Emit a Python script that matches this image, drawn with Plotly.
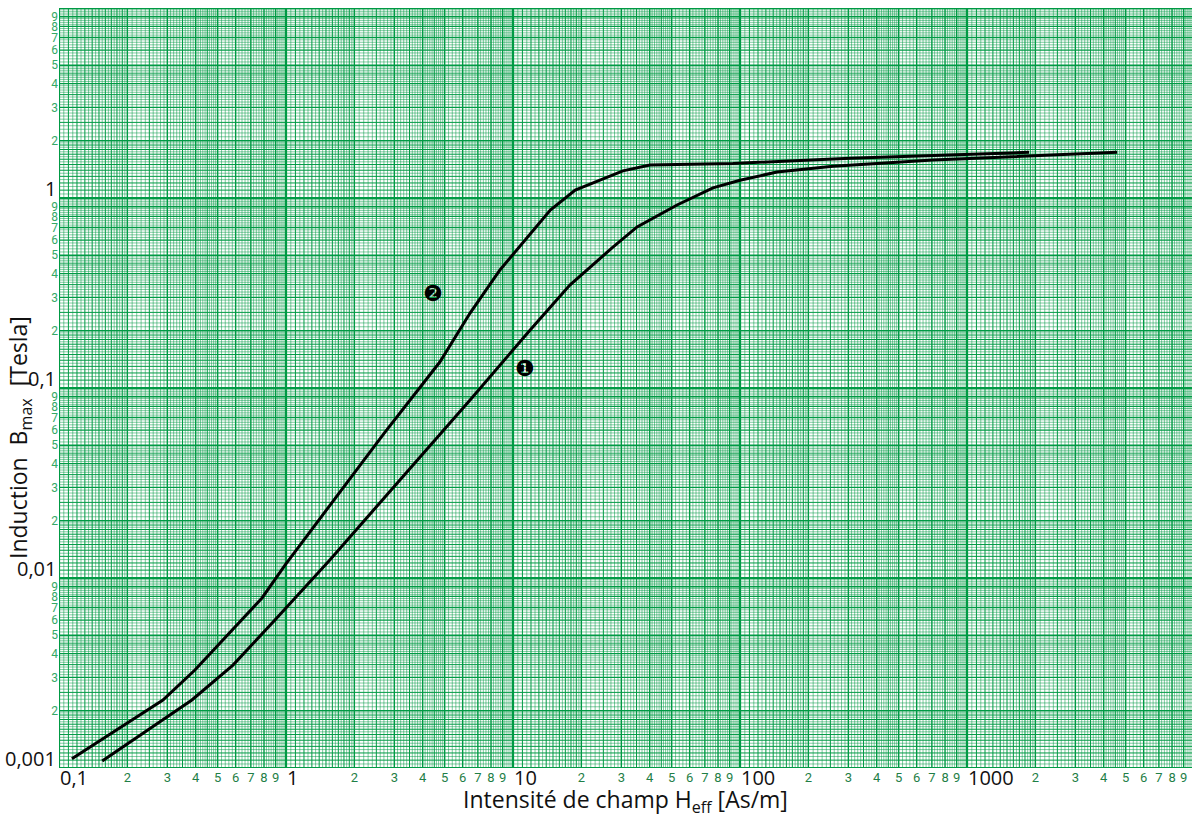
import numpy as np
import plotly.graph_objects as go

# ---------------- data ----------------
H1 = [0.155, 0.385, 0.584, 0.894, 1.56, 3.18, 6.47, 11.9, 17.8, 27.3, 35.2, 52.8,
      76, 100, 145.5, 257, 708, 1397, 4581]
B1 = [0.00109, 0.00228, 0.00348, 0.00601, 0.01245, 0.0328, 0.0865, 0.202, 0.348,
      0.546, 0.704, 0.919, 1.13, 1.24, 1.37, 1.47, 1.585, 1.64, 1.74]

H2 = [0.114, 0.287, 0.397, 0.567, 0.784, 0.99, 1.56, 2.73, 4.76, 6.47, 8.76, 11.3,
      14.6, 18.8, 24.2, 30.5, 40.1, 93, 305, 1397, 1875]
B2 = [0.00112, 0.00228, 0.00328, 0.0052, 0.00785, 0.0117, 0.0242, 0.0586, 0.137,
      0.248, 0.418, 0.601, 0.865, 1.10, 1.24, 1.39, 1.49, 1.52, 1.62, 1.72, 1.74]

x_decades = [0.1, 1, 10, 100, 1000]
x_decade_labels = ["0,1", "1", "10", "100", "1000"]
y_decades = [0.001, 0.01, 0.1, 1]
y_decade_labels = ["0,001", "0,01", "0,1", "1"]
minor_digits = ["2", "3", "4", "5", "6", "7", "8", "9"]

curve_labels = ["\u2776", "\u2777"]
curve_label_pos = [(11.3, 0.127), (4.44, 0.316)]

x_title = "Intensité de champ H<sub>eff</sub> [As/m]"
y_title = "Induction  B<sub>max</sub>  [Tesla]"

# ---------------- styling ----------------
XR = [-1, 3.991]
YR = [-3, 1]
G_DARK = "#009a44"
G_LIGHT = "rgba(0,154,68,0.5)"
FONT = "Open Sans"

def grid_levels(decades):
    dec, integ, med, light = [], [], [], []
    for d in decades:
        dec.append(d)
        for k in range(2, 10):
            integ.append(d * k)
        mids = [round(1 + 0.1 * i, 2) for i in range(1, 10)] + [2.5, 3.5, 4.5]
        for m in mids:
            med.append(d * m)
        lt = [round(1.05 + 0.1 * i, 3) for i in range(10)]
        lt += [round(2 + 0.1 * i, 2) for i in range(1, 30) if round(2 + 0.1 * i, 2) not in (2.5, 3.0, 3.5, 4.0, 4.5)]
        lt += [round(5 + 0.2 * i, 2) for i in range(1, 25) if abs(round(5 + 0.2 * i, 2) - round(5 + 0.2 * i)) > 1e-6]
        for m in lt:
            light.append(d * m)
    return dec, integ, med, light

xdec, xint, xmed, xlight = grid_levels(x_decades + [10000])
ydec, yint, ymed, ylight = grid_levels(y_decades)
ydec.append(10)

def seg(xv, yv):
    xs, ys = [], []
    for v in xv:
        xs += [v, v, None]
        ys += [1e-3, 10, None]
    for v in yv:
        xs += [0.1, 1e4, None]
        ys += [v, v, None]
    return xs, ys

fig = go.Figure()
for (xv, yv, col, w) in [
    (xlight, ylight, G_LIGHT, 1.0),
    (xmed, ymed, G_DARK, 1.0),
    (xint, yint, G_DARK, 1.4),
    (xdec, ydec, G_DARK, 2.2),
]:
    xs, ys = seg(xv, yv)
    fig.add_trace(go.Scatter(x=xs, y=ys, mode="lines", line=dict(color=col, width=w),
                             hoverinfo="skip", showlegend=False))

for H, B in [(H1, B1), (H2, B2)]:
    fig.add_trace(go.Scatter(x=H, y=B, mode="lines", line=dict(color="black", width=3),
                             showlegend=False))

x_minor_vals = [d * k for d in x_decades for k in range(2, 10)]
x_minor_text = [t for d in x_decades for t in minor_digits]
y_minor_vals = [d * k for d in y_decades for k in range(2, 10)]
y_minor_text = [t for d in y_decades for t in minor_digits]

fig.update_xaxes(type="log", range=XR, showgrid=False, zeroline=False, showline=False,
                 tickmode="array", tickvals=x_minor_vals, ticktext=x_minor_text,
                 tickfont=dict(family="Roboto", size=13, color="#1f7f47"), ticks="")
fig.update_yaxes(type="log", range=YR, showgrid=False, zeroline=False, showline=False,
                 tickmode="array", tickvals=y_minor_vals, ticktext=y_minor_text,
                 tickfont=dict(family="Roboto", size=12, color="#33a866"), ticks="")

ann = []
for v, t in zip(x_decades, x_decade_labels):
    ann.append(dict(x=np.log10(v), y=0, xref="x", yref="paper", text=t, showarrow=False,
                    xanchor="left", yanchor="top", xshift=-1, yshift=6,
                    font=dict(family=FONT, size=20, color="#111")))
for v, t in zip(y_decades, y_decade_labels):
    ann.append(dict(x=0, y=np.log10(v), xref="paper", yref="y", text=t, showarrow=False,
                    xanchor="right", yanchor="bottom", xshift=-1, yshift=-6,
                    font=dict(family=FONT, size=20, color="#111")))
for t, (hx, by) in zip(curve_labels, curve_label_pos):
    ann.append(dict(x=np.log10(hx), y=np.log10(by), text=t, showarrow=False,
                    font=dict(family="DejaVu Sans", size=22, color="black")))
ann.append(dict(x=0.5, y=0, xref="paper", yref="paper", text=x_title, showarrow=False,
                xanchor="center", yanchor="top", yshift=-13,
                font=dict(family=FONT, size=23, color="#111")))
ann.append(dict(x=0, y=0.5, xref="paper", yref="paper", text=y_title, showarrow=False,
                textangle=-90, xanchor="center", yanchor="middle", xshift=-40, yshift=-50,
                font=dict(family=FONT, size=23, color="#111")))

fig.update_layout(width=1192, height=814, margin=dict(l=59, r=0, t=8, b=46),
                  plot_bgcolor="white", paper_bgcolor="white", annotations=ann)

fig.write_html("out.html")
